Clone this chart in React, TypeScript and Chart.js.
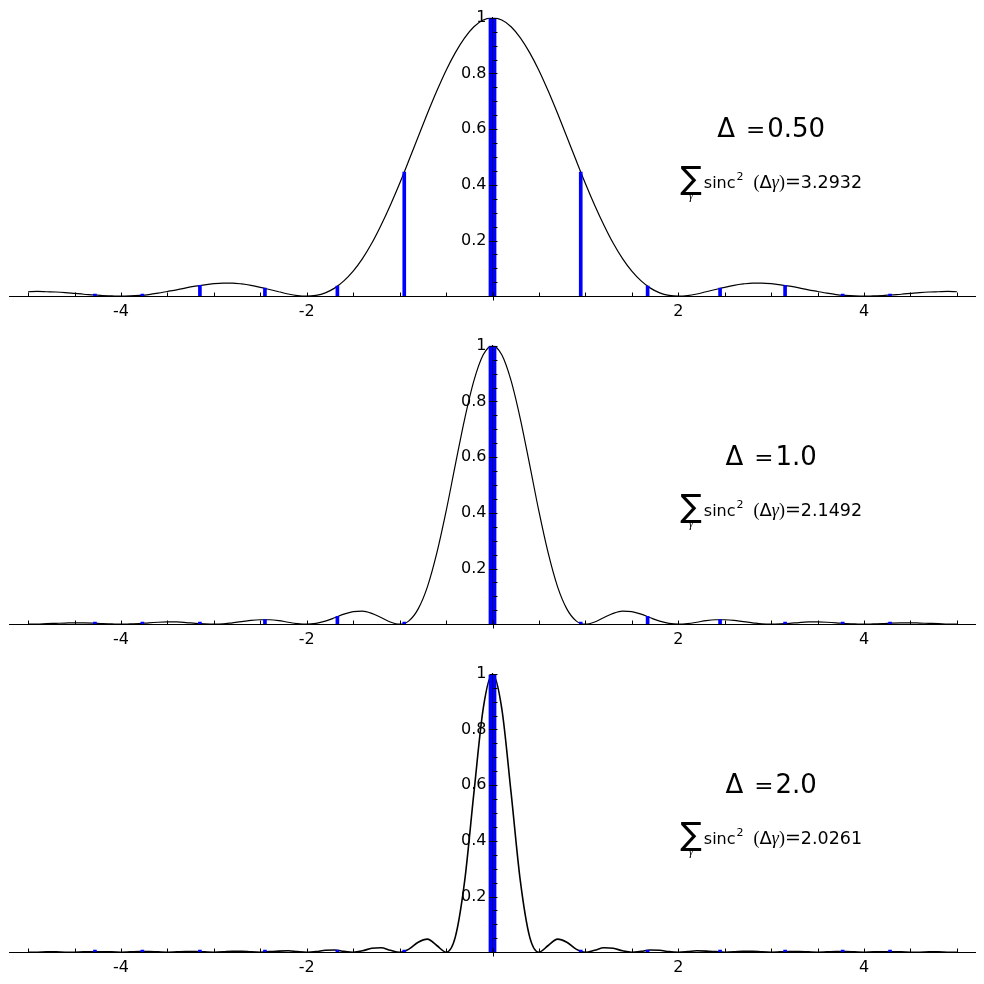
import React, { useEffect, useRef } from 'react';
import { Chart, registerables } from 'chart.js';

Chart.register(...registerables);

// sample positions of the curves
const xs = [
  -5.0, -4.9, -4.8, -4.7, -4.6, -4.5, -4.4, -4.3, -4.2, -4.1,
  -4.0, -3.9, -3.8, -3.7, -3.6, -3.5, -3.4, -3.3, -3.2, -3.1,
  -3.0, -2.9, -2.8, -2.7, -2.6, -2.5, -2.4, -2.3, -2.2, -2.1,
  -2.0, -1.9, -1.8, -1.7, -1.6, -1.5, -1.4, -1.3, -1.2, -1.1,
  -1.0, -0.9, -0.8, -0.7, -0.6, -0.5, -0.4, -0.3, -0.2, -0.1,
  0.0,
  0.1, 0.2, 0.3, 0.4, 0.5, 0.6, 0.7, 0.8, 0.9, 1.0,
  1.1, 1.2, 1.3, 1.4, 1.5, 1.6, 1.7, 1.8, 1.9, 2.0,
  2.1, 2.2, 2.3, 2.4, 2.5, 2.6, 2.7, 2.8, 2.9, 3.0,
  3.1, 3.2, 3.3, 3.4, 3.5, 3.6, 3.7, 3.8, 3.9, 4.0,
  4.1, 4.2, 4.3, 4.4, 4.5, 4.6, 4.7, 4.8, 4.9, 5.0,
];

// sinc^2 curve, delta = 0.50
const curve1 = [
  0.016, 0.017, 0.016, 0.015, 0.013, 0.010, 0.007, 0.005, 0.002, 0.001,
  0, 0.001, 0.003, 0.006, 0.011, 0.017, 0.023, 0.030, 0.036, 0.041,
  0.045, 0.047, 0.047, 0.044, 0.039, 0.032, 0.024, 0.016, 0.008, 0.002,
  0, 0.003, 0.012, 0.029, 0.055, 0.090, 0.135, 0.190, 0.255, 0.327,
  0.405, 0.488, 0.573, 0.657, 0.737, 0.811, 0.875, 0.928, 0.968, 0.992,
  1,
  0.992, 0.968, 0.928, 0.875, 0.811, 0.737, 0.657, 0.573, 0.488, 0.405,
  0.327, 0.255, 0.190, 0.135, 0.090, 0.055, 0.029, 0.012, 0.003, 0,
  0.002, 0.008, 0.016, 0.024, 0.032, 0.039, 0.044, 0.047, 0.047, 0.045,
  0.041, 0.036, 0.030, 0.023, 0.017, 0.011, 0.006, 0.003, 0.001, 0,
  0.001, 0.002, 0.005, 0.007, 0.010, 0.013, 0.015, 0.016, 0.017, 0.016,
];

// delta = 1.0
const curve2 = [
  0, 0, 0.002, 0.003, 0.004, 0.005, 0.005, 0.004, 0.002, 0.001,
  0, 0.001, 0.002, 0.005, 0.007, 0.008, 0.008, 0.006, 0.003, 0.001,
  0, 0.001, 0.005, 0.009, 0.014, 0.016, 0.016, 0.013, 0.007, 0.002,
  0, 0.003, 0.011, 0.023, 0.036, 0.045, 0.047, 0.039, 0.024, 0.008,
  0, 0.012, 0.055, 0.135, 0.255, 0.405, 0.573, 0.737, 0.875, 0.968,
  1,
  0.968, 0.875, 0.737, 0.573, 0.405, 0.255, 0.135, 0.055, 0.012, 0,
  0.008, 0.024, 0.039, 0.047, 0.045, 0.036, 0.023, 0.011, 0.003, 0,
  0.002, 0.007, 0.013, 0.016, 0.016, 0.014, 0.009, 0.005, 0.001, 0,
  0.001, 0.003, 0.006, 0.008, 0.008, 0.007, 0.005, 0.002, 0.001, 0,
  0.001, 0.002, 0.004, 0.005, 0.005, 0.004, 0.003, 0.002, 0, 0,
];

// delta = 2.0
const curve3 = [
  0, 0, 0.001, 0.001, 0, 0, 0.001, 0.001, 0.001, 0.001,
  0, 0.001, 0.002, 0.002, 0.001, 0, 0.001, 0.002, 0.002, 0.001,
  0, 0.001, 0.003, 0.003, 0.001, 0, 0.002, 0.004, 0.005, 0.002,
  0, 0.002, 0.007, 0.008, 0.003, 0, 0.005, 0.014, 0.016, 0.007,
  0, 0.011, 0.036, 0.047, 0.024, 0, 0.055, 0.255, 0.573, 0.875,
  1,
  0.875, 0.573, 0.255, 0.055, 0, 0.024, 0.047, 0.036, 0.011, 0,
  0.007, 0.016, 0.014, 0.005, 0, 0.003, 0.008, 0.007, 0.002, 0,
  0.002, 0.005, 0.004, 0.002, 0, 0.001, 0.003, 0.003, 0.001, 0,
  0.001, 0.002, 0.002, 0.001, 0, 0.001, 0.002, 0.002, 0.001, 0,
  0.001, 0.001, 0.001, 0.001, 0, 0, 0.001, 0.001, 0, 0,
];

// gamma positions and the bar heights in each panel
const gammas = [-4.28, -3.77, -3.15, -2.45, -1.67, -0.95, -0.022, 0.022, 0.95, 1.67, 2.45, 3.15, 3.77, 4.28];
const bars1 = [0.004, 0.004, 0.039, 0.029, 0.036, 0.446, 1, 1, 0.446, 0.036, 0.029, 0.039, 0.004, 0.004];
const bars2 = [0.003, 0.003, 0.002, 0.017, 0.028, 0.003, 1, 1, 0.003, 0.028, 0.017, 0.002, 0.003, 0.003];
const bars3 = [0.001, 0.002, 0.002, 0, 0.007, 0.003, 0.995, 0.995, 0.003, 0.007, 0, 0.002, 0.002, 0.001];

const deltaLabels = ['0.50', '1.0', '2.0'];
const sumLabels = ['3.2932', '2.1492', '2.0261'];
const xTickLabels = [-4, -2, 2, 4];
const yTickLabels = [0.2, 0.4, 0.6, 0.8, 1];

const FONT = '"DejaVu Sans", sans-serif';
const SERIF = '"Liberation Serif", serif';
const DSERIF = '"DejaVu Serif", serif';

// small inward tick marks like the sage/matplotlib axes
const axisTicks = {
  id: 'axisTicks',
  afterDatasetsDraw(chart: any) {
    const { ctx, scales: { x, y } } = chart;
    const x0 = Math.round(x.getPixelForValue(0)) + 0.5;
    const y0 = Math.round(y.getPixelForValue(0)) + 0.5;
    ctx.save();
    ctx.strokeStyle = '#000';
    ctx.lineWidth = 1;
    ctx.beginPath();
    for (let k = -10; k <= 10; k++) {
      const px = Math.round(x.getPixelForValue(k * 0.5)) + 0.5;
      ctx.moveTo(px, y0);
      ctx.lineTo(px, y0 - 4);
    }
    for (let k = 1; k <= 20; k++) {
      const py = Math.round(y.getPixelForValue(k * 0.05)) + 0.5;
      ctx.moveTo(k % 4 === 0 ? x0 - 4 : x0, py);
      ctx.lineTo(x0 + 4, py);
    }
    ctx.moveTo(x0, y0);
    ctx.lineTo(x0, y0 + 4);
    ctx.stroke();
    ctx.restore();
  },
};

const annotation = (delta: string, total: string) => ({
  id: 'annotation',
  afterDraw(chart: any) {
    const { ctx, scales: { x, y } } = chart;
    const cx = x.getPixelForValue(3.0);
    const b1 = y.getPixelForValue(0.572);
    const b2 = y.getPixelForValue(0.389);
    ctx.save();
    ctx.fillStyle = '#000';
    ctx.textBaseline = 'alphabetic';
    ctx.textAlign = 'left';

    // line 1:  Δ = value
    const line1 = [
      { t: 'Δ', font: `26px ${FONT}`, gap: 11 },
      { t: '=', font: `23px ${DSERIF}`, gap: 2 },
      { t: delta, font: `26px ${FONT}`, gap: 0 },
    ];
    // line 2:  Σ_γ sinc²(Δγ) = total
    const line2 = [
      { t: '∑', font: `32px ${FONT}`, gap: 2, dy: 1 },
      { t: 'sinc', font: `16px ${FONT}`, gap: 1, dy: 0 },
      { t: '2', font: `11px ${FONT}`, gap: 10, dy: -8 },
      { t: '(', font: `18px ${SERIF}`, gap: 0, dy: 0 },
      { t: 'Δ', font: `18px ${FONT}`, gap: 0, dy: 0 },
      { t: 'γ', font: `italic 18px ${SERIF}`, gap: 0, dy: 0 },
      { t: ')', font: `18px ${SERIF}`, gap: 0, dy: 0 },
      { t: '=', font: `19px ${DSERIF}`, gap: 0, dy: 0 },
      { t: total, font: `17.5px ${FONT}`, gap: 0, dy: 0 },
    ];

    const drawLine = (parts: any[], base: number, sub?: boolean) => {
      const widths = parts.map((p) => {
        ctx.font = p.font;
        return ctx.measureText(p.t).width;
      });
      const width = parts.reduce((s, p, i) => s + widths[i] + p.gap, 0);
      let px = cx - width / 2;
      parts.forEach((p, i) => {
        ctx.font = p.font;
        ctx.fillText(p.t, px, base + (p.dy || 0));
        if (sub && i === 0) {
          ctx.font = `italic 12px ${SERIF}`;
          ctx.textAlign = 'center';
          ctx.fillText('γ', px + widths[0] / 2, base + 11);
          ctx.textAlign = 'left';
        }
        px += widths[i] + p.gap;
      });
    };
    drawLine(line1, b1);
    drawLine(line2, b2, true);
    ctx.restore();
  },
});

interface PanelProps {
  curve: number[];
  bars: number[];
  delta: string;
  total: string;
  lineWidth: number;
}

const Panel: React.FC<PanelProps> = ({ curve, bars, delta, total, lineWidth }) => {
  const canvasRef = useRef<HTMLCanvasElement>(null);

  useEffect(() => {
    if (!canvasRef.current) return;
    const chart = new Chart(canvasRef.current, {
      type: 'line',
      data: {
        datasets: [
          {
            type: 'bar',
            data: gammas.map((g, i) => ({ x: g, y: bars[i] })),
            backgroundColor: '#0000ff',
            borderWidth: 0,
            barThickness: 3,
            minBarLength: 2,
            grouped: false,
            order: 0,
          } as any,
          {
            type: 'line',
            data: xs.map((x, i) => ({ x, y: curve[i] })),
            borderColor: '#000',
            borderWidth: lineWidth,
            pointRadius: 0,
            fill: false,
            cubicInterpolationMode: 'monotone',
            order: 1,
          },
        ],
      },
      options: {
        animation: false,
        responsive: true,
        maintainAspectRatio: false,
        layout: { padding: { left: 9.5, right: 8.5, top: 17.8, bottom: 31.8 } },
        plugins: { legend: { display: false }, tooltip: { enabled: false } },
        scales: {
          x: {
            type: 'linear',
            min: -5.2,
            max: 5.2,
            offset: false,
            position: { y: 0 },
            grid: { display: true, drawOnChartArea: false, drawTicks: false },
            border: { display: true, color: '#000', width: 1 },
            ticks: {
              stepSize: 2,
              autoSkip: false,
              maxRotation: 0,
              padding: 6,
              color: '#000',
              font: { family: FONT, size: 16 },
              callback: (v: any) => (xTickLabels.includes(Math.round(Number(v) * 100) / 100) ? String(v) : ''),
            },
            afterFit: (s: any) => {
              s.height = 0;
              s.paddingLeft = 0;
              s.paddingRight = 0;
            },
          },
          y: {
            type: 'linear',
            min: 0,
            max: 1,
            z: 1,
            position: { x: 0 },
            grid: { display: true, drawOnChartArea: false, drawTicks: false },
            border: { display: true, color: '#000', width: 1 },
            ticks: { display: false },
            afterFit: (s: any) => {
              s.width = 0;
              s.paddingTop = 0;
              s.paddingBottom = 0;
            },
          },
          // label-only axis a little left of the y spine, so the labels keep a gap
          yLabels: {
            type: 'linear',
            axis: 'y',
            min: 0,
            max: 1,
            position: { x: -0.065 },
            grid: { display: false },
            border: { display: false },
            ticks: {
              stepSize: 0.2,
              autoSkip: false,
              color: '#000',
              font: { family: FONT, size: 16 },
              callback: (v: any) => {
                const r = Math.round(Number(v) * 10) / 10;
                if (!yTickLabels.includes(r)) return '';
                return r === 1 ? '1' : r.toFixed(1);
              },
            },
            afterFit: (s: any) => {
              s.width = 0;
              s.paddingTop = 0;
              s.paddingBottom = 0;
            },
          },
        } as any,
      },
      plugins: [axisTicks, annotation(delta, total)],
    });
    return () => chart.destroy();
  }, [curve, bars, delta, total, lineWidth]);

  return (
    <div style={{ position: 'relative', width: 984, height: 328 }}>
      <canvas ref={canvasRef}></canvas>
    </div>
  );
};

const App: React.FC = () => {
  return (
    <div style={{ position: 'absolute', left: 0, top: 0, width: 984, height: 984, background: '#fff' }}>
      <Panel curve={curve1} bars={bars1} delta={deltaLabels[0]} total={sumLabels[0]} lineWidth={1.2} />
      <Panel curve={curve2} bars={bars2} delta={deltaLabels[1]} total={sumLabels[1]} lineWidth={1.2} />
      <Panel curve={curve3} bars={bars3} delta={deltaLabels[2]} total={sumLabels[2]} lineWidth={1.6} />
    </div>
  );
};

export default App;
